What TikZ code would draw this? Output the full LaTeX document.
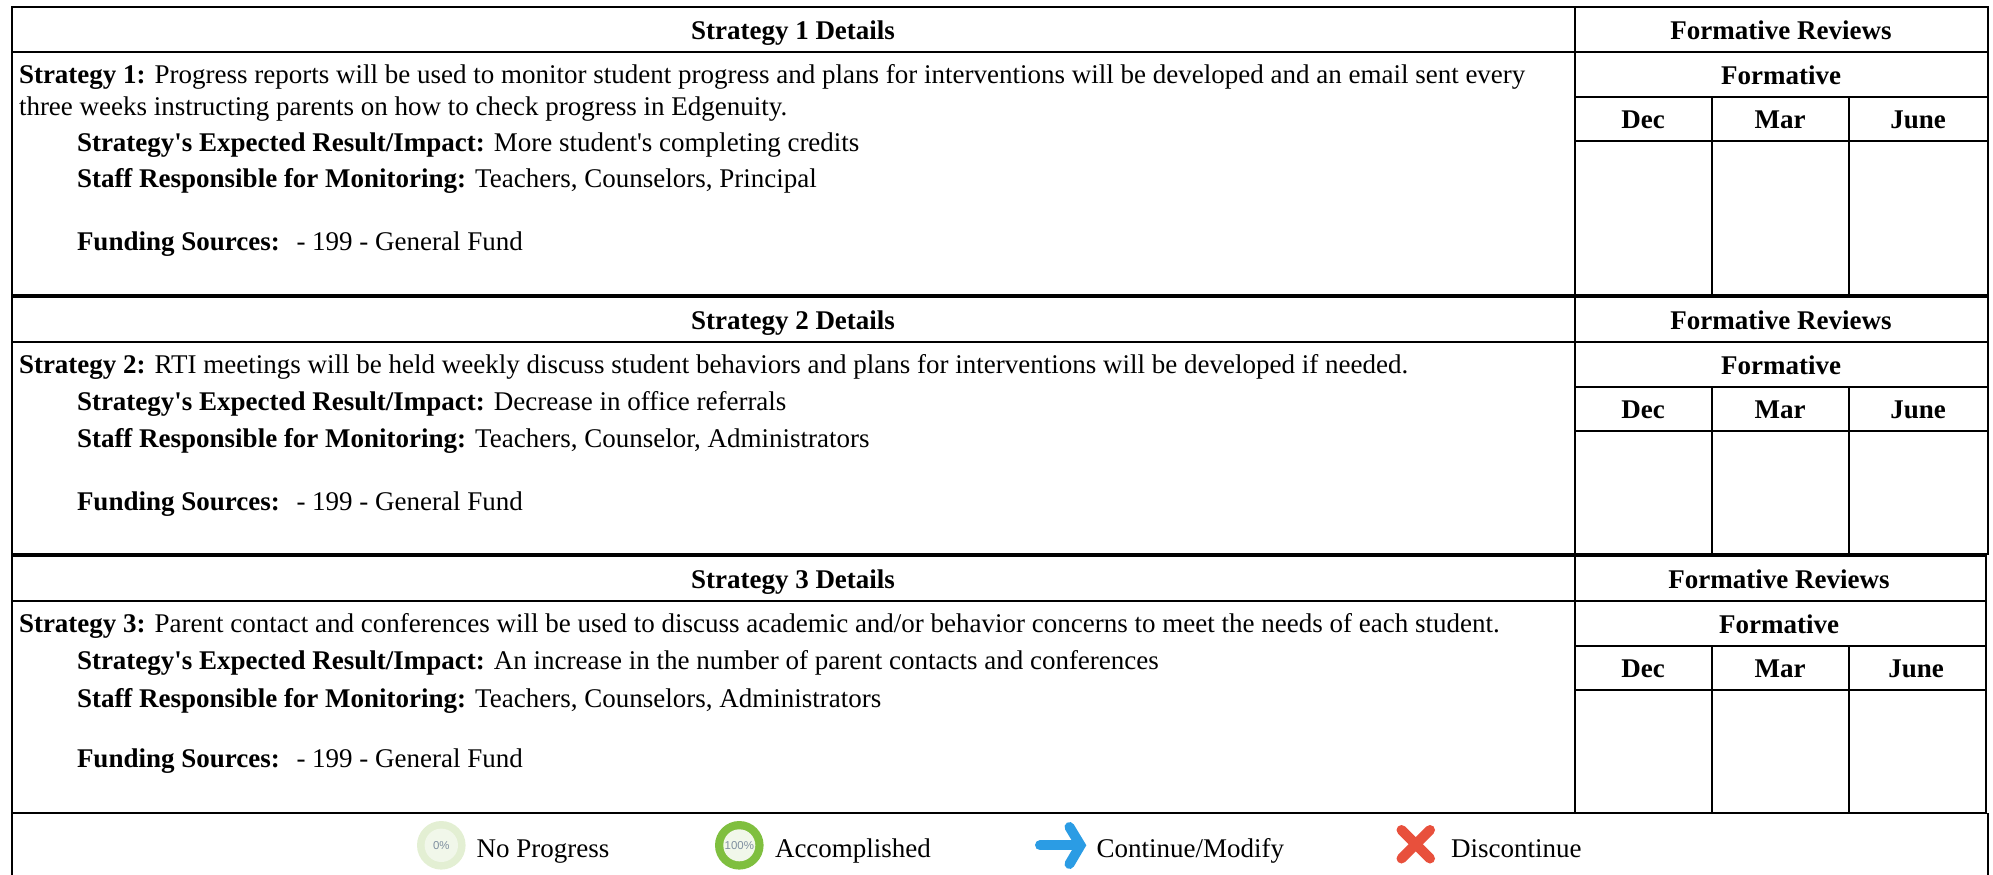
\documentclass[tikz,border=0pt]{standalone}
\usepackage{fontspec}
\setmainfont{Liberation Serif}[Ligatures=TeXOff]
\setsansfont{Liberation Sans}
\definecolor{ringA}{HTML}{E3EFD3}
\definecolor{ringB}{HTML}{7FBF3F}
\definecolor{ringIn}{HTML}{F1F7EA}
\definecolor{pct}{HTML}{7F8FA0}
\definecolor{arrowblue}{HTML}{2B9CE4}
\definecolor{xred}{HTML}{E8503C}
\tikzset{
  txt/.style={anchor=base west,inner sep=0pt,outer sep=0pt,font=\fontsize{27.1}{32}\selectfont},
  ctr/.style={anchor=base,inner sep=0pt,outer sep=0pt,font=\fontsize{27.1}{32}\bfseries\selectfont},
  rule/.style={line width=2bp,black},
  pcttxt/.style={inner sep=0pt,font=\fontsize{11.5}{12}\sffamily\selectfont,text=pct}
}
\newcommand{\strategysection}[3]{%
  \pgfmathsetmacro{\ya}{#1+45}
  \pgfmathsetmacro{\yb}{#1+89.5}
  \pgfmathsetmacro{\yc}{#1+133.5}
  \draw[rule] (11.5,#1) -- (#3,#1) -- (#3,#2) -- (11.5,#2) -- cycle;
  \draw[rule] (11.5,\ya) -- (#3,\ya);
  \draw[rule] (1575,\yb) -- (#3,\yb);
  \draw[rule] (1575,\yc) -- (#3,\yc);
  \draw[rule] (1575,#1) -- (1575,#2);
  \draw[rule] (1712,\yb) -- (1712,#2);
  \draw[rule] (1849,\yb) -- (1849,#2);
}
\begin{document}
\begin{tikzpicture}[x=1bp,y=-1bp]
\useasboundingbox (0,0) rectangle (1993,875);
\strategysection{7}{295}{1988}
\strategysection{297}{554}{1988}
\strategysection{556}{813}{1986}
% legend box
\draw[rule] (11.5,813) -- (11.5,875);
\draw[rule] (1988,813) -- (1988,875);
% section 1
\node[ctr] (h1) at (793,39) {Strategy 1 Details};
\node[ctr] (r1) at (1781,39) {Formative Reviews};
\node[ctr] (f1) at (1781,84) {Formative};
\node[ctr] (d1) at (1643,128) {Dec};
\node[ctr] (m1) at (1780,128) {Mar};
\node[ctr] (j1) at (1918,128) {June};
\node[txt] (s1) at (19,83) {\textbf{Strategy 1:} Progress reports will be used to monitor student progress and plans for interventions will be developed and an email sent every};
\node[txt] (s1b) at (19,115) {three weeks instructing parents on how to check progress in Edgenuity.};
\node[txt] (e1) at (77,151) {\textbf{Strategy's Expected Result/Impact:} More student's completing credits};
\node[txt] (t1) at (77,187) {\textbf{Staff Responsible for Monitoring:} Teachers, Counselors, Principal};
\node[txt] (u1) at (77,250) {\textbf{Funding Sources:}};
\node[txt] (v1) at (296.5,250) {- 199 - General Fund};
% section 2
\node[ctr] (h2) at (793,329) {Strategy 2 Details};
\node[ctr] (r2) at (1781,329) {Formative Reviews};
\node[ctr] (f2) at (1781,374) {Formative};
\node[ctr] (d2) at (1643,418) {Dec};
\node[ctr] (m2) at (1780,418) {Mar};
\node[ctr] (j2) at (1918,418) {June};
\node[txt] (s2) at (19,373) {\textbf{Strategy 2:} RTI meetings will be held weekly discuss student behaviors and plans for interventions will be developed if needed.};
\node[txt] (e2) at (77,410) {\textbf{Strategy's Expected Result/Impact:} Decrease in office referrals};
\node[txt] (t2) at (77,447) {\textbf{Staff Responsible for Monitoring:} Teachers, Counselor, Administrators};
\node[txt] (u2) at (77,510) {\textbf{Funding Sources:}};
\node[txt] (v2) at (296.5,510) {- 199 - General Fund};
% section 3
\node[ctr] (h3) at (793,588) {Strategy 3 Details};
\node[ctr] (r3) at (1779,588) {Formative Reviews};
\node[ctr] (f3) at (1779,633) {Formative};
\node[ctr] (d3) at (1643,677) {Dec};
\node[ctr] (m3) at (1780,677) {Mar};
\node[ctr] (j3) at (1916,677) {June};
\node[txt] (s3) at (19,632) {\textbf{Strategy 3:} Parent contact and conferences will be used to discuss academic and/or behavior concerns to meet the needs of each student.};
\node[txt] (e3) at (77,669) {\textbf{Strategy's Expected Result/Impact:} An increase in the number of parent contacts and conferences};
\node[txt] (t3) at (77,707) {\textbf{Staff Responsible for Monitoring:} Teachers, Counselors, Administrators};
\node[txt] (u3) at (77,767) {\textbf{Funding Sources:}};
\node[txt] (v3) at (296.5,767) {- 199 - General Fund};
% legend
\fill[ringA] (441.3,845.3) circle (24.3);
\fill[ringIn] (441.3,845.3) circle (16.7);
\node[pcttxt] (p0) at (441.3,845.3) {0\%};
\node[txt] (l0) at (476.7,857) {No Progress};
\fill[ringB] (739.3,845.3) circle (24.3);
\fill[ringIn] (739.3,845.3) circle (16);
\node[pcttxt] (p1) at (739.3,845.3) {100\%};
\node[txt] (l1) at (775,857) {Accomplished};
\draw[arrowblue,line width=10bp,line cap=round] (1040,845.3) -- (1079,845.3);
\draw[arrowblue,line width=10bp,line cap=round,line join=miter] (1069.5,827) -- (1080.5,845.3) -- (1069.5,864);
\node[txt] (l2) at (1096.7,857) {Continue/Modify};
\draw[xred,line width=10bp,line cap=round] (1401.5,830) -- (1430,858.5);
\draw[xred,line width=10bp,line cap=round] (1430,830) -- (1401.5,858.5);
\node[txt] (l3) at (1451,857) {Discontinue};
\end{tikzpicture}
\end{document}
